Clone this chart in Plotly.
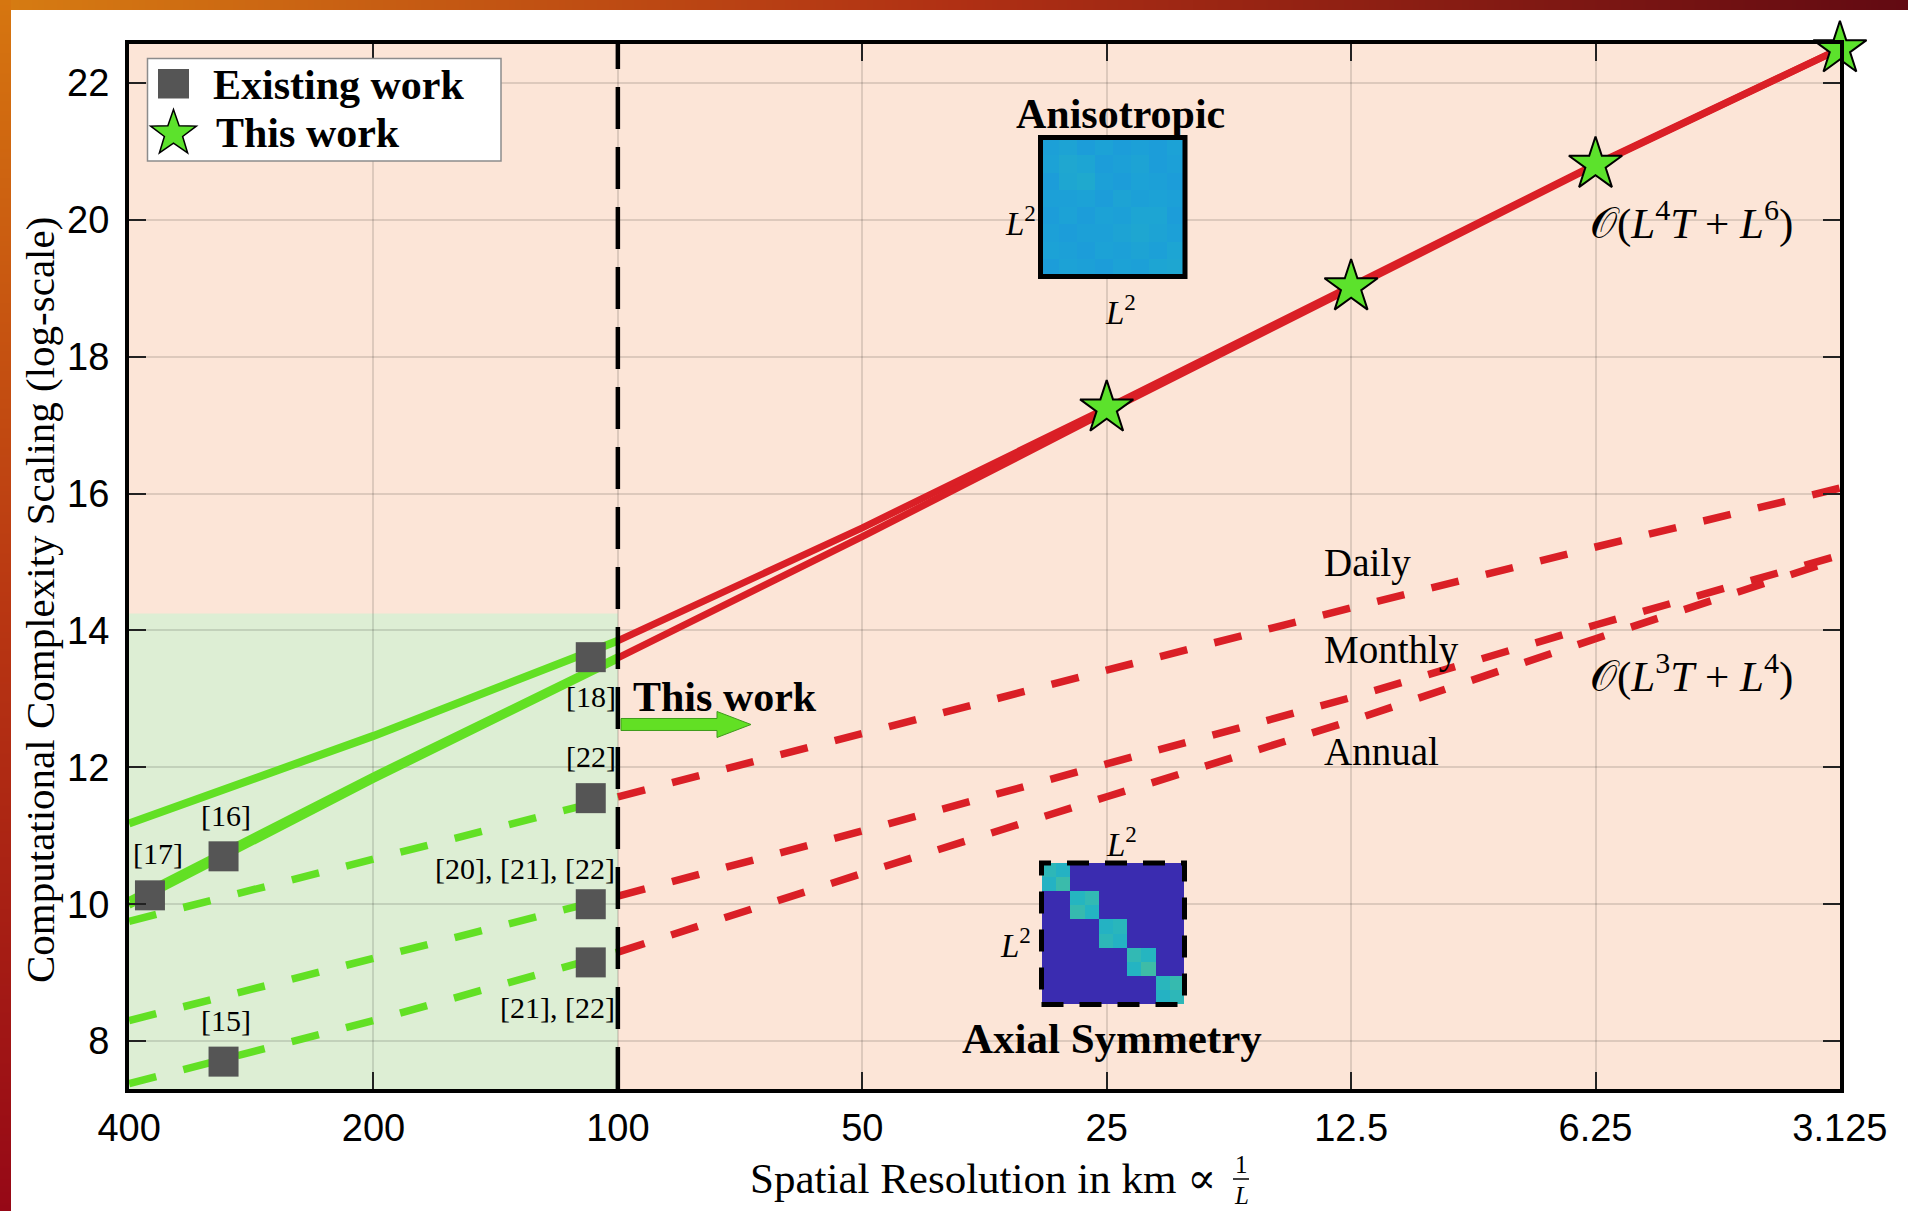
import math
import plotly.graph_objects as go

W, H = 1908, 1211

# ---------------- data ----------------
res_ticks = [400, 200, 100, 50, 25, 12.5, 6.25, 3.125]
res_tick_text = ["400", "200", "100", "50", "25", "12.5", "6.25", "3.125"]
y_ticks = [8, 10, 12, 14, 16, 18, 20, 22]
y_tick_text = ["8", "10", "12", "14", "16", "18", "20", "22"]

# resolutions covered by earlier studies / by this work (km)
res_prior = [400, 200, 100]
res_ours = [100, 50, 25, 12.5, 6.25, 3.125]

# anisotropic cost, O(L^4 T + L^6)
aniso_prior_upper = [11.18, 12.46, 13.85]
aniso_prior_lower_a = [10.06, 11.88, 13.62]
aniso_prior_lower_b = [9.98, 11.82, 13.58]
aniso_ours_upper = [13.85, 15.50, 17.25, 19.02, 20.81, 22.50]
aniso_ours_lower = [13.60, 15.37, 17.20, 19.00, 20.80, 22.50]

# axially symmetric cost, O(L^3 T + L^4)
daily_prior = [9.75, 10.66, 11.57]
monthly_prior = [8.30, 9.22, 10.12]
annual_prior = [7.38, 8.30, 9.30]
daily_ours = [11.57, 12.50, 13.42, 14.33, 15.22, 16.08]
monthly_ours = [10.12, 11.07, 12.05, 13.02, 14.08, 15.10]
annual_ours = [9.30, 10.45, 11.57, 12.68, 13.88, 15.05]

# existing work
existing_res = [377, 306, 306, 108, 108, 108, 108]
existing_val = [10.13, 10.70, 7.70, 13.61, 11.55, 10.00, 9.15]
existing_refs = ["[17]", "[16]", "[15]", "[18]", "[22]", "[20], [21], [22]", "[21], [22]"]

# this work
this_work_res = [25, 12.5, 6.25, 3.125]
this_work_val = [17.25, 19.02, 20.81, 22.50]

# upper edge of the shaded "existing work" band
prior_band_top = 14.25

# covariance sketches (colour-mapped magnitudes)
aniso_cov = [
    [0.57, 0.59, 0.56, 0.58, 0.56, 0.57, 0.56, 0.58],
    [0.58, 0.62, 0.60, 0.56, 0.57, 0.59, 0.56, 0.57],
    [0.56, 0.61, 0.63, 0.57, 0.56, 0.58, 0.57, 0.56],
    [0.57, 0.57, 0.58, 0.56, 0.59, 0.57, 0.58, 0.57],
    [0.56, 0.58, 0.56, 0.58, 0.57, 0.60, 0.60, 0.56],
    [0.57, 0.56, 0.57, 0.57, 0.59, 0.61, 0.59, 0.57],
    [0.58, 0.57, 0.56, 0.58, 0.57, 0.59, 0.57, 0.60],
    [0.56, 0.58, 0.57, 0.56, 0.58, 0.57, 0.60, 0.61],
]
axial_cov = [
    [0.74, 0.70, 0, 0, 0, 0, 0, 0, 0, 0],
    [0.70, 0.77, 0, 0, 0, 0, 0, 0, 0, 0],
    [0, 0, 0.72, 0.75, 0, 0, 0, 0, 0, 0],
    [0, 0, 0.76, 0.71, 0, 0, 0, 0, 0, 0],
    [0, 0, 0, 0, 0.70, 0.73, 0, 0, 0, 0],
    [0, 0, 0, 0, 0.74, 0.70, 0, 0, 0, 0],
    [0, 0, 0, 0, 0, 0, 0.75, 0.72, 0, 0],
    [0, 0, 0, 0, 0, 0, 0.71, 0.78, 0, 0],
    [0, 0, 0, 0, 0, 0, 0, 0, 0.73, 0.76],
    [0, 0, 0, 0, 0, 0, 0, 0, 0.70, 0.74],
]

# ---------------- styling ----------------
SERIF = "Liberation Serif, DejaVu Serif, serif"
SANS = "Liberation Sans, Arial, sans-serif"
RED = "#da1f26"
GREEN = "#62e024"
GRAY = "#555555"
PEACH = "#fce5d7"
MINT = "#ddeed4"
GRID = "rgba(0,0,0,0.12)"

FRAME_L, FRAME_R, FRAME_T, FRAME_B = 129, 1840, 44, 1089
Y_RANGE = [7.30, 22.57]
EPS = 1e-4


def px(X):
    return X / W


def py(Y):
    return 1 - Y / H


fig = go.Figure()


def add_line(xs, ys, color, dash="solid", width=7.0):
    fig.add_trace(go.Scatter(
        x=xs, y=ys, mode="lines",
        line=dict(color=color, width=width, dash=dash),
        hoverinfo="skip", showlegend=False, xaxis="x", yaxis="y"))


DASH = "28px,28px"

# earlier-resolution curves (green)
add_line(res_prior, daily_prior, GREEN, DASH, 7.5)
add_line(res_prior, monthly_prior, GREEN, DASH, 7.5)
add_line(res_prior, annual_prior, GREEN, DASH, 7.5)
add_line(res_prior, aniso_prior_upper, GREEN, "solid", 8)
add_line(res_prior, aniso_prior_lower_a, GREEN, "solid", 6.5)
add_line(res_prior, aniso_prior_lower_b, GREEN, "solid", 6.5)

# this work (red)
add_line(res_ours, daily_ours, RED, DASH, 7.5)
add_line(res_ours, monthly_ours, RED, DASH, 7.5)
add_line(res_ours, annual_ours, RED, DASH, 7.5)
add_line(res_ours, aniso_ours_upper, RED, "solid", 7)
add_line(res_ours, aniso_ours_lower, RED, "solid", 7)

# markers
fig.add_trace(go.Scatter(
    x=existing_res, y=existing_val, mode="markers",
    marker=dict(symbol="square", size=30, color=GRAY, line=dict(width=0)),
    hoverinfo="skip", showlegend=False))
fig.add_trace(go.Scatter(
    x=this_work_res, y=this_work_val, mode="markers",
    marker=dict(symbol="star", size=40, color="#5ce22c", line=dict(width=2, color="black")),
    hoverinfo="skip", showlegend=False, cliponaxis=False))

# covariance sketches
cov_scale = [[0, "#3a2cb0"], [0.5, "#1a8fe0"], [0.58, "#1ca2d6"],
             [0.72, "#25b5c0"], [0.85, "#5cc58a"], [1, "#a8d24a"]]
fig.add_trace(go.Heatmap(z=aniso_cov, colorscale=cov_scale, zmin=0, zmax=1,
                         showscale=False, hoverinfo="skip", xaxis="x5", yaxis="y5"))
fig.add_trace(go.Heatmap(z=axial_cov, colorscale=cov_scale, zmin=0, zmax=1,
                         showscale=False, hoverinfo="skip", xaxis="x6", yaxis="y6"))

# page frame gradients
fig.add_trace(go.Heatmap(z=[[0, 1], [0, 1]], x=[0, 1], y=[0, 1], zsmooth="best",
                         colorscale=[[0, "rgb(214,124,18)"], [0.5, "rgb(176,48,20)"], [1, "rgb(98,10,18)"]],
                         showscale=False, hoverinfo="skip", xaxis="x3", yaxis="y3"))
fig.add_trace(go.Heatmap(z=[[0, 0], [1, 1]], x=[0, 1], y=[0, 1], zsmooth="best",
                         colorscale=[[0, "rgb(150,8,22)"], [0.5, "rgb(185,55,18)"], [1, "rgb(214,118,16)"]],
                         showscale=False, hoverinfo="skip", xaxis="x4", yaxis="y4"))

# ---------------- shapes ----------------
shapes = []
# shaded band for earlier resolutions
shapes.append(dict(type="rect", xref="x domain", yref="y", x0=0, x1=2 / 7,
                   y0=Y_RANGE[0], y1=prior_band_top, fillcolor=MINT,
                   line=dict(width=0), layer="below"))
# 100 km divider
shapes.append(dict(type="line", xref="x domain", yref="y domain", x0=2 / 7, x1=2 / 7,
                   y0=0, y1=1, line=dict(color="black", width=4.5, dash="42px,18px"),
                   layer="above"))

# "This work" arrow
arrow = [(621, 718.5), (717, 718.5), (717, 711.5), (751, 724.5), (717, 737.5), (717, 730.5), (621, 730.5)]
path = "M" + " L".join(f"{px(a):.5f},{py(b):.5f}" for a, b in arrow) + " Z"
shapes.append(dict(type="path", xref="paper", yref="paper", path=path,
                   fillcolor=GREEN, line=dict(color="#3f9a1c", width=1)))

# sketch borders
shapes.append(dict(type="rect", xref="paper", yref="paper",
                   x0=px(1040.5), x1=px(1185), y0=py(276.5), y1=py(137.5),
                   line=dict(color="black", width=5)))
shapes.append(dict(type="rect", xref="paper", yref="paper",
                   x0=px(1041.5), x1=px(1184.5), y0=py(1004.5), y1=py(863),
                   line=dict(color="black", width=5, dash="22px,16px")))

# legend box and glyphs
shapes.append(dict(type="rect", xref="paper", yref="paper",
                   x0=px(147.5), x1=px(501), y0=py(161), y1=py(58.5),
                   fillcolor="white", line=dict(color="#8c8c8c", width=1.5)))
shapes.append(dict(type="rect", xref="paper", yref="paper",
                   x0=px(158), x1=px(189), y0=py(98.5), y1=py(69),
                   fillcolor=GRAY, line=dict(width=0)))
cx, cy, r_out, r_in = 173.5, 133.5, 24.0, 9.6
pts = []
for k in range(10):
    ang = math.pi / 2 + k * math.pi / 5
    r = r_out if k % 2 == 0 else r_in
    pts.append((cx + r * math.cos(ang), cy - r * math.sin(ang)))
star_path = "M" + " L".join(f"{px(a):.5f},{py(b):.5f}" for a, b in pts) + " Z"
shapes.append(dict(type="path", xref="paper", yref="paper", path=star_path,
                   fillcolor="#5ce22c", line=dict(color="black", width=1.5)))

# ---------------- annotations ----------------
ann = []


def text(X, Y, s, size, xanchor="center", bold=False, family=SERIF, angle=0):
    ann.append(dict(x=px(X), y=py(Y), xref="paper", yref="paper", text=(f"<b>{s}</b>" if bold else s),
                    showarrow=False, xanchor=xanchor, yanchor="middle", textangle=angle,
                    font=dict(family=family, size=size, color="black")))


# reference labels beside the existing-work markers (pixel offsets, anchor)
ref_label_place = [(8, -42, "center"), (2, -41, "center"), (2, -41, "center"),
                   (0, 39, "center"), (0, -42, "center"), (26, -36, "right"), (26, 45, "right")]
for r, v, lab, (dx, dy, xa) in zip(existing_res, existing_val, existing_refs, ref_label_place):
    ann.append(dict(x=math.log10(r), y=v, xref="x", yref="y", text=lab, showarrow=False,
                    xshift=dx, yshift=-dy, xanchor=xa, yanchor="middle",
                    font=dict(family=SERIF, size=30, color="black")))

text(631, 697, "This work", 42, xanchor="left", bold=True)
text(1120, 114, "Anisotropic", 42, bold=True)
text(1112, 1038, "Axial Symmetry", 43, bold=True)
text(1020, 221, "<i>L</i><sup>2</sup>", 33)
text(1120, 310, "<i>L</i><sup>2</sup>", 33)
text(1121, 842, "<i>L</i><sup>2</sup>", 33)
text(1015, 943, "<i>L</i><sup>2</sup>", 33)
text(1322, 563, "Daily", 39, xanchor="left")
text(1322, 650, "Monthly", 39, xanchor="left")
text(1322, 751, "Annual", 39, xanchor="left")
text(1588, 220, "𝒪(<i>L</i><sup>4</sup><i>T</i> + <i>L</i><sup>6</sup>)", 43, xanchor="left")
text(1588, 673, "𝒪(<i>L</i><sup>3</sup><i>T</i> + <i>L</i><sup>4</sup>)", 43, xanchor="left")

# legend entries
text(211, 85, "Existing work", 42, xanchor="left", bold=True)
text(214, 133, "This work", 42, xanchor="left", bold=True)

# axis titles
text(40, 600, "Computational Complexity Scaling (log-scale)", 41, angle=-90)
text(1218, 1178, "Spatial Resolution in km ∝", 43, xanchor="right")
text(1241, 1164, "1", 25)
text(1241, 1195, "<i>L</i>", 25)
shapes.append(dict(type="line", xref="paper", yref="paper",
                   x0=px(1233), x1=px(1249), y0=py(1179), y1=py(1179),
                   line=dict(color="black", width=1.5)))

# ---------------- layout ----------------
x_dom = [px(FRAME_L), px(FRAME_R)]
y_dom = [py(FRAME_B), py(FRAME_T)]
hidden = dict(visible=False, showgrid=False, zeroline=False, fixedrange=True)

fig.update_layout(
    width=W, height=H,
    margin=dict(l=0, r=0, t=0, b=0, pad=0, autoexpand=False),
    paper_bgcolor="white", plot_bgcolor=PEACH,
    showlegend=False,
    xaxis=dict(type="log", domain=x_dom,
               range=[math.log10(400) + EPS, math.log10(3.125) - EPS],
               tickvals=res_ticks, ticktext=res_tick_text,
               showgrid=True, gridcolor=GRID, gridwidth=1.5, zeroline=False,
               ticks="inside", ticklen=17, tickwidth=1.5, tickcolor="#222",
               showline=True, linecolor="black", linewidth=4, mirror="ticks",
               ticklabelstandoff=2, automargin=False,
               tickfont=dict(family=SANS, size=38, color="black"), anchor="y"),
    yaxis=dict(domain=y_dom, range=Y_RANGE, tickvals=y_ticks, ticktext=y_tick_text,
               showgrid=True, gridcolor=GRID, gridwidth=1.5, zeroline=False,
               ticks="inside", ticklen=17, tickwidth=1.5, tickcolor="#222",
               showline=True, linecolor="black", linewidth=4, mirror="ticks",
               ticklabelstandoff=8, automargin=False,
               tickfont=dict(family=SANS, size=38, color="black"), anchor="x"),
    xaxis3=dict(domain=[0, 1], range=[0, 1], anchor="y3", **hidden),
    yaxis3=dict(domain=[py(10), 1], range=[0, 1], anchor="x3", **hidden),
    xaxis4=dict(domain=[0, px(11)], range=[0, 1], anchor="y4", **hidden),
    yaxis4=dict(domain=[0, 1], range=[0, 1], anchor="x4", **hidden),
    xaxis5=dict(domain=[px(1041), px(1185)], range=[-0.5, 7.5], anchor="y5", **hidden),
    yaxis5=dict(domain=[py(276), py(138)], range=[7.5, -0.5], anchor="x5", **hidden),
    xaxis6=dict(domain=[px(1042), px(1184)], range=[-0.5, 9.5], anchor="y6", **hidden),
    yaxis6=dict(domain=[py(1004), py(863)], range=[9.5, -0.5], anchor="x6", **hidden),
    shapes=shapes,
    annotations=ann,
)

fig.write_html("out.html", config={"displayModeBar": False})
